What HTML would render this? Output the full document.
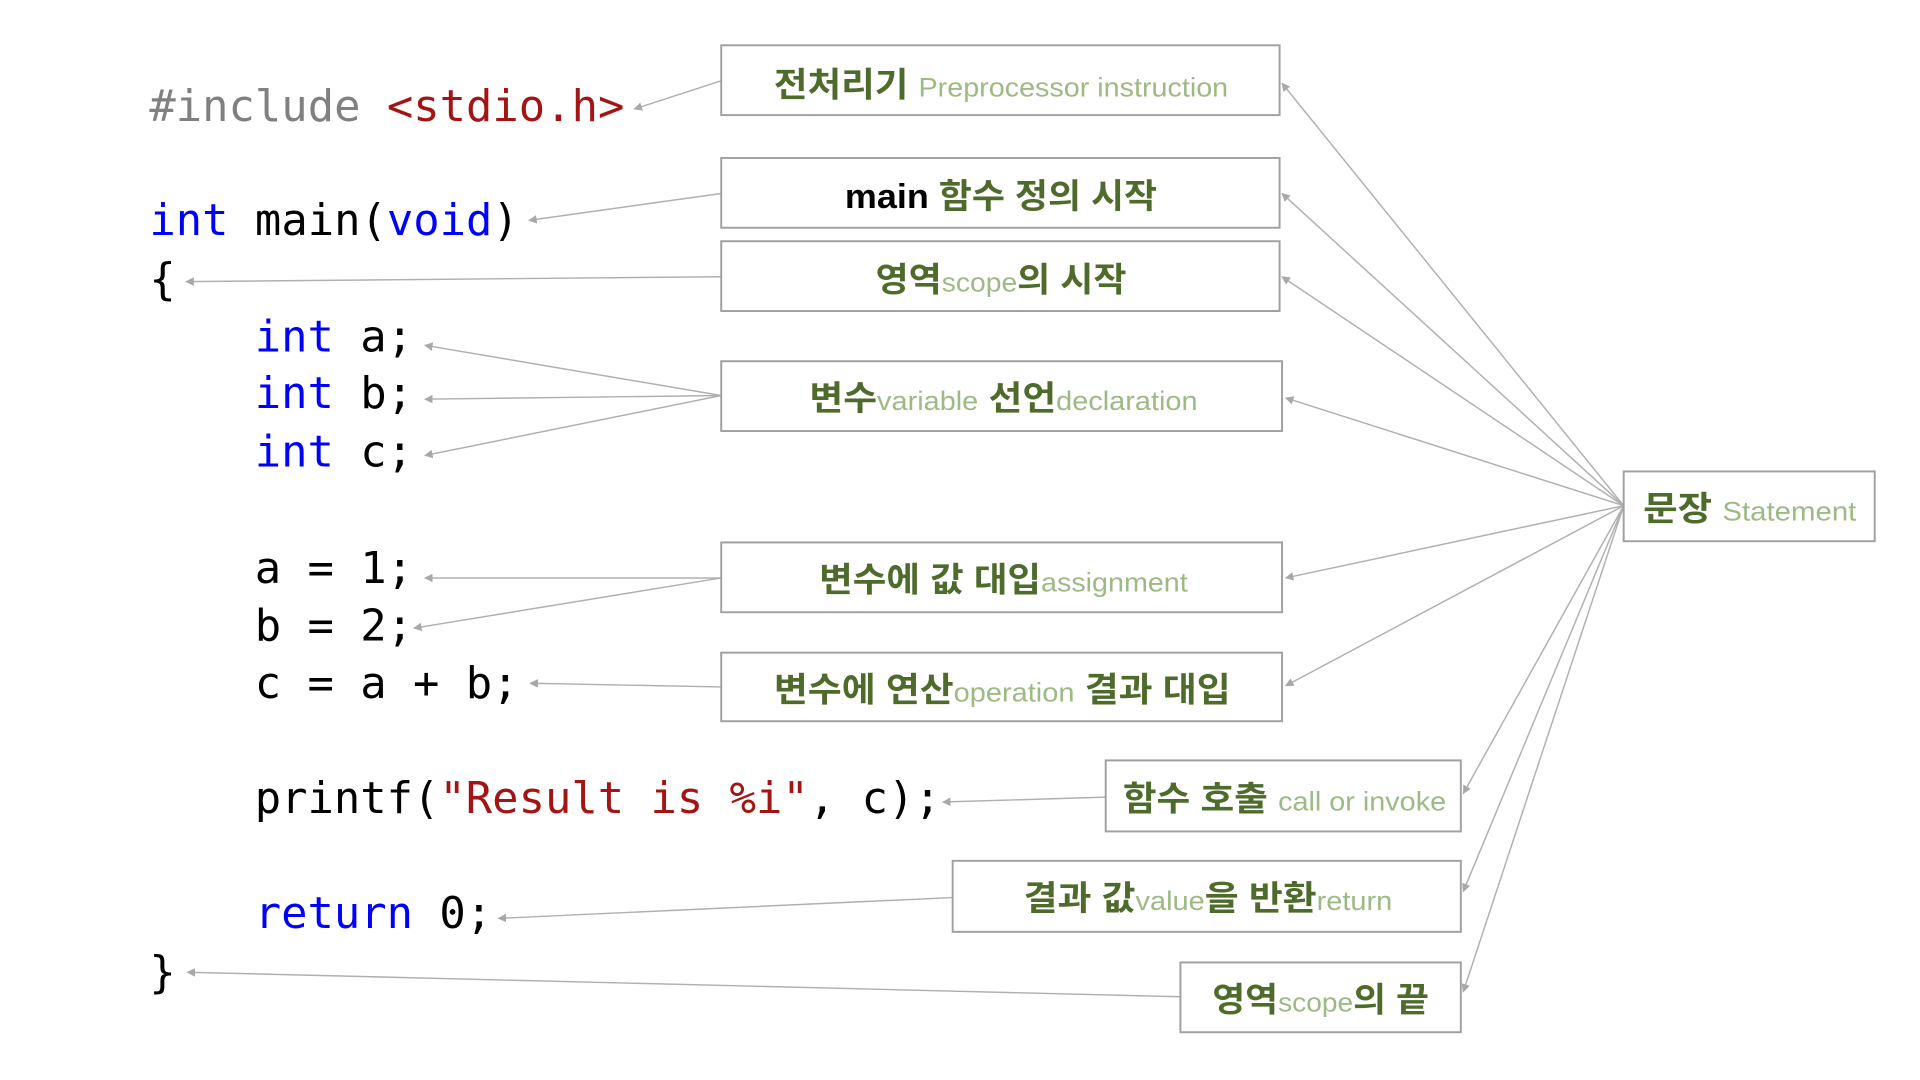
<!DOCTYPE html>
<html><head><meta charset="utf-8"><style>
html,body{margin:0;padding:0;background:#fff;}
svg{display:block;}
.c{font-family:"DejaVu Sans Mono","Liberation Mono",monospace;font-size:35.8px;fill:#000;}
.k{fill:#0000ff}.s{fill:#a31515}.p{fill:#808080}
.l{font-family:"Liberation Sans","Noto Sans CJK KR",sans-serif;font-weight:bold;font-size:28px;fill:#4e6b2c;}
.e{font-weight:normal;font-size:22px;fill:#9dba84;}
.b{fill:#fff;stroke:#a0a0a0;stroke-width:1.6;}
.a{stroke:#b0b0b0;stroke-width:1.2;fill:none;marker-end:url(#m);}
</style></head><body>
<svg width="1920" height="1080" viewBox="0 0 1568 882" preserveAspectRatio="none" xmlns="http://www.w3.org/2000/svg">
<defs><marker id="m" viewBox="0 0 10 10" refX="9" refY="5" markerWidth="7" markerHeight="7" markerUnits="userSpaceOnUse" orient="auto"><path d="M0,0 L10,5 L0,10 z" fill="#a8a8a8"/></marker></defs>
<g class="c" xml:space="preserve">
<text x="122" y="99"><tspan class="p">#include</tspan> <tspan class="s">&lt;stdio.h&gt;</tspan></text>
<text x="122" y="192"><tspan class="k">int</tspan> main(<tspan class="k">void</tspan>)</text>
<text x="122" y="240">{</text>
<text x="208" y="287"><tspan class="k">int</tspan> a;</text>
<text x="208" y="333"><tspan class="k">int</tspan> b;</text>
<text x="208" y="381"><tspan class="k">int</tspan> c;</text>
<text x="208" y="476">a = 1;</text>
<text x="208" y="523">b = 2;</text>
<text x="208" y="570">c = a + b;</text>
<text x="208" y="664">printf(<tspan class="s">"Result is %i"</tspan>, c);</text>
<text x="208" y="758"><tspan class="k">return</tspan> 0;</text>
<text x="122" y="806">}</text>
</g>
<g>
<path class="a" d="M589,66 L518,89"/>
<path class="a" d="M589,158 L432,180"/>
<path class="a" d="M589,226 L152,230"/>
<path class="a" d="M589,323 L347,282"/>
<path class="a" d="M589,323 L347,326"/>
<path class="a" d="M589,323 L347,372"/>
<path class="a" d="M589,472 L347,472"/>
<path class="a" d="M589,472 L338,513"/>
<path class="a" d="M589,561 L433,558"/>
<path class="a" d="M903,651 L770,655"/>
<path class="a" d="M778,733 L407,750"/>
<path class="a" d="M964,814 L153,794"/>
<path class="a" d="M1326,413 L1047,68"/>
<path class="a" d="M1326,413 L1047,158"/>
<path class="a" d="M1326,413 L1047,226"/>
<path class="a" d="M1326,413 L1050,325"/>
<path class="a" d="M1326,413 L1050,472"/>
<path class="a" d="M1326,413 L1050,560"/>
<path class="a" d="M1326,413 L1195,648"/>
<path class="a" d="M1326,413 L1195,728"/>
<path class="a" d="M1326,413 L1195,810"/>
</g>
<rect class="b" x="589" y="37" width="456" height="57"/>
<rect class="b" x="589" y="129" width="456" height="57"/>
<rect class="b" x="589" y="197" width="456" height="57"/>
<rect class="b" x="589" y="295" width="458" height="57"/>
<rect class="b" x="589" y="443" width="458" height="57"/>
<rect class="b" x="589" y="533" width="458" height="56"/>
<rect class="b" x="903" y="621" width="290" height="58"/>
<rect class="b" x="778" y="703" width="415" height="58"/>
<rect class="b" x="964" y="786" width="229" height="57"/>
<rect class="b" x="1326" y="385" width="205" height="57"/>
<g class="l">
<text x="632" y="79" textLength="371" lengthAdjust="spacingAndGlyphs">전처리기 <tspan class="e">Preprocessor instruction</tspan></text>
<text x="690" y="170" textLength="255" lengthAdjust="spacingAndGlyphs"><tspan fill="#000">main</tspan> 함수 정의 시작</text>
<text x="715" y="238" textLength="205" lengthAdjust="spacingAndGlyphs">영역<tspan class="e">scope</tspan>의 시작</text>
<text x="661" y="335" textLength="317" lengthAdjust="spacingAndGlyphs">변수<tspan class="e">variable</tspan> 선언<tspan class="e">declaration</tspan></text>
<text x="669" y="483" textLength="301" lengthAdjust="spacingAndGlyphs">변수에 값 대입<tspan class="e">assignment</tspan></text>
<text x="632" y="573" textLength="373" lengthAdjust="spacingAndGlyphs">변수에 연산<tspan class="e">operation</tspan> 결과 대입</text>
<text x="917" y="662" textLength="264" lengthAdjust="spacingAndGlyphs">함수 호출 <tspan class="e">call or invoke</tspan></text>
<text x="836" y="743" textLength="301" lengthAdjust="spacingAndGlyphs">결과 값<tspan class="e">value</tspan>을 반환<tspan class="e">return</tspan></text>
<text x="990" y="826" textLength="177" lengthAdjust="spacingAndGlyphs">영역<tspan class="e">scope</tspan>의 끝</text>
<text x="1342" y="425" textLength="174" lengthAdjust="spacingAndGlyphs">문장 <tspan class="e">Statement</tspan></text>
</g>
</svg>
</body></html>
